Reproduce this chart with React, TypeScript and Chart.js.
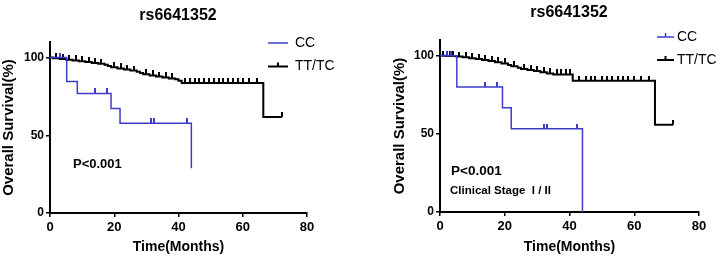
import React, { useEffect, useRef } from 'react';
import { Chart, registerables } from 'chart.js';
Chart.register(...registerables);

// ---------- data ----------
const TITLE = 'rs6641352';
const LEGEND_LABELS = ['CC', 'TT/TC'];
const Y_TICKS = [0, 50, 100];
const X_TITLE = 'Time(Months)';
const Y_TITLE = 'Overall Survival(%)';

// Left panel (all stages)
const L_CC_TIMES = [5.2, 8.5, 19, 21.8, 44];
const L_CC_SURV = [84.6, 76.9, 67.3, 57.7, 28.8];
const L_CC_CENSOR = [3, 14, 17.6, 31.3, 32.4, 42.6];

const L_TT_TIMES = [1, 3, 5, 7, 9, 11, 13, 15, 17, 18, 19, 21, 23, 25, 27, 28, 29, 31, 33, 35, 37, 39, 40, 41, 66.4];
const L_TT_SURV = [99.5, 99, 98.6, 98.1, 97.6, 97.1, 96.5, 96, 95.3, 94.5, 93.7, 93, 92.3, 91.6, 90.8, 90, 89.2, 88.5, 87.8, 87.2, 86.6, 86, 85, 83.7, 61.8];
const L_TT_END = 72.2;
const L_TT_CENSOR = [2, 4, 6, 8, 10, 12, 14, 16, 20, 22, 24, 26, 30, 32, 34, 36, 38, 42, 43.5, 45, 46.5, 48, 49.5, 51, 52.5, 54, 55.5, 57, 58.5, 60, 62, 64.5, 72.2];

// Right panel (clinical stage I/II)
const R_CC_TIMES = [5.2, 19.3, 22, 44];
const R_CC_SURV = [80, 66.7, 53.3, 0];
const R_CC_CENSOR = [2.2, 3.4, 14, 17.7, 32, 33, 42.4];

const R_TT_TIMES = [2, 5, 7, 9, 11, 13, 15, 17, 19, 21, 22, 24, 25, 27, 29, 31, 33, 35, 41, 66.4];
const R_TT_SURV = [99.7, 99.4, 98.9, 98.4, 97.8, 97.2, 96.5, 95.8, 95, 94, 93.2, 92.3, 91.5, 90.8, 90.1, 89.3, 88.6, 88, 84, 55.8];
const R_TT_END = 72;
const R_TT_CENSOR = [1, 3, 4, 6, 8, 10, 12, 14, 16, 18, 20, 23, 26, 28, 30, 32, 34, 36, 37.5, 39, 40, 43, 45, 46.5, 48, 50, 51.5, 53, 55, 56.5, 58, 60, 62, 64.5, 72];

// ---------- helpers ----------
const BLUE = '#3d3dcc';
const BLACK = '#000000';
const SANS = '"Liberation Sans", Arial, sans-serif';

function stepPoints(times: number[], surv: number[], end?: number) {
  const pts = [{ x: 0, y: 100 }];
  times.forEach((t, i) => pts.push({ x: t, y: surv[i] }));
  if (end !== undefined) pts.push({ x: end, y: surv[surv.length - 1] });
  return pts;
}
function levelAt(times: number[], surv: number[], t: number) {
  let s = 100;
  times.forEach((tt, i) => {
    if (tt <= t) s = surv[i];
  });
  return s;
}
function censorPoints(times: number[], surv: number[], cens: number[]) {
  return cens.map((t) => ({ x: t, y: levelAt(times, surv, t) }));
}
function makeTick(color: string, w: number) {
  const c = document.createElement('canvas');
  c.width = w;
  c.height = 10;
  const g = c.getContext('2d')!;
  g.fillStyle = color;
  g.fillRect(0, 0, w, 5);
  return c;
}

type PanelCfg = {
  left: number;
  padLeft: number;
  padRight: number;
  padTop: number;
  yWidth: number;
  xHeight: number;
  titleX: number;
  titleY: number;
  legend: { x0: number; x1: number; textX: number; ys: number[]; ticks: boolean[] };
  notes: { text: string; x: number; y: number; font: string }[];
  cc: { times: number[]; surv: number[]; cens: number[]; end?: number };
  tt: { times: number[]; surv: number[]; cens: number[]; end?: number };
};

const LEFT_PANEL: PanelCfg = {
  left: 0,
  padLeft: 0,
  padRight: 57,
  padTop: 42,
  yWidth: 50,
  xHeight: 47,
  titleX: 178,
  titleY: 16,
  legend: { x0: 268, x1: 288, textX: 295, ys: [43, 66.5], ticks: [false, true] },
  notes: [{ text: 'P<0.001', x: 73, y: 164.5, font: `bold 13px ${SANS}` }],
  cc: { times: L_CC_TIMES, surv: L_CC_SURV, cens: L_CC_CENSOR },
  tt: { times: L_TT_TIMES, surv: L_TT_SURV, cens: L_TT_CENSOR, end: L_TT_END },
};

const RIGHT_PANEL: PanelCfg = {
  left: 364,
  padLeft: 27,
  padRight: 29,
  padTop: 40,
  yWidth: 49,
  xHeight: 48,
  titleX: 205,
  titleY: 13,
  legend: { x0: 293, x1: 310, textX: 313, ys: [37, 60], ticks: [true, true] },
  notes: [
    { text: 'P<0.001', x: 87, y: 171.5, font: `bold 13.5px ${SANS}` },
    { text: 'Clinical Stage  I / II', x: 86, y: 191, font: `bold 11.5px ${SANS}` },
  ],
  cc: { times: R_CC_TIMES, surv: R_CC_SURV, cens: R_CC_CENSOR },
  tt: { times: R_TT_TIMES, surv: R_TT_SURV, cens: R_TT_CENSOR, end: R_TT_END },
};

function Panel({ cfg }: { cfg: PanelCfg }) {
  const ref = useRef<HTMLCanvasElement | null>(null);
  useEffect(() => {
    if (!ref.current) return;
    const blueTick = makeTick(BLUE, 2);
    const blackTick = makeTick(BLACK, 2);
    const colors = [BLUE, BLACK];
    const widths = [1.5, 2];

    const extras = {
      id: 'extras',
      afterDraw(chart: any) {
        const ctx = chart.ctx as CanvasRenderingContext2D;
        ctx.save();
        ctx.fillStyle = BLACK;
        ctx.textBaseline = 'middle';
        ctx.textAlign = 'center';
        ctx.font = `bold 16px ${SANS}`;
        ctx.fillText(TITLE, cfg.titleX, cfg.titleY);
        const L = cfg.legend;
        LEGEND_LABELS.forEach((lab, i) => {
          const y = L.ys[i];
          ctx.strokeStyle = colors[i];
          ctx.lineWidth = widths[i];
          ctx.beginPath();
          ctx.moveTo(L.x0, y);
          ctx.lineTo(L.x1, y);
          if (L.ticks[i]) {
            const m = (L.x0 + L.x1) / 2;
            ctx.moveTo(m, y);
            ctx.lineTo(m, y - 4);
          }
          ctx.stroke();
          ctx.fillStyle = BLACK;
          ctx.textAlign = 'left';
          ctx.font = `14px ${SANS}`;
          ctx.fillText(lab, L.textX, y);
        });
        cfg.notes.forEach((n) => {
          ctx.font = n.font;
          ctx.textAlign = 'left';
          ctx.fillText(n.text, n.x, n.y);
        });
        ctx.restore();
      },
    };

    const chart = new Chart(ref.current, {
      type: 'line',
      data: {
        datasets: [
          {
            label: 'CC',
            data: stepPoints(cfg.cc.times, cfg.cc.surv, cfg.cc.end),
            borderColor: BLUE,
            borderWidth: 1.5,
            stepped: 'before',
            pointRadius: 0,
            fill: false,
          },
          {
            label: 'CC censored',
            type: 'scatter',
            data: censorPoints(cfg.cc.times, cfg.cc.surv, cfg.cc.cens),
            pointStyle: blueTick as any,
            pointRadius: 3,
            showLine: false,
          },
          {
            label: 'TT/TC',
            data: stepPoints(cfg.tt.times, cfg.tt.surv, cfg.tt.end),
            borderColor: BLACK,
            borderWidth: 2,
            stepped: 'before',
            pointRadius: 0,
            fill: false,
          },
          {
            label: 'TT/TC censored',
            type: 'scatter',
            data: censorPoints(cfg.tt.times, cfg.tt.surv, cfg.tt.cens),
            pointStyle: blackTick as any,
            pointRadius: 3,
            showLine: false,
          },
        ] as any,
      },
      options: {
        animation: false,
        responsive: false,
        events: [],
        layout: { padding: { left: cfg.padLeft, right: cfg.padRight, top: cfg.padTop, bottom: 0 } },
        plugins: { legend: { display: false }, tooltip: { enabled: false }, title: { display: false } },
        scales: {
          x: {
            type: 'linear',
            min: 0,
            max: 80,
            ticks: { stepSize: 20, color: BLACK, font: { family: SANS, size: 13, weight: 'bold' }, padding: 3 },
            grid: { drawOnChartArea: false, drawTicks: true, tickLength: 4, color: BLACK, lineWidth: 1.5 },
            border: { display: true, color: BLACK, width: 2 },
            title: {
              display: true,
              text: X_TITLE,
              color: BLACK,
              font: { family: SANS, size: 14, weight: 'bold' },
              padding: { top: 0, bottom: 4 },
            },
            afterFit: (s: any) => {
              s.height = cfg.xHeight;
            },
          },
          y: {
            type: 'linear',
            min: 0,
            max: 110,
            afterBuildTicks: (s: any) => {
              s.ticks = Y_TICKS.map((v) => ({ value: v }));
            },
            ticks: { color: BLACK, font: { family: SANS, size: 12, weight: 'bold' }, padding: 2 },
            grid: { drawOnChartArea: false, drawTicks: true, tickLength: 4, color: BLACK, lineWidth: 1.5 },
            border: { display: true, color: BLACK, width: 2 },
            title: {
              display: true,
              text: Y_TITLE,
              color: BLACK,
              font: { family: SANS, size: 15, weight: 'bold' },
              padding: { top: 0, bottom: 0 },
            },
            afterFit: (s: any) => {
              s.width = cfg.yWidth;
            },
          },
        },
      } as any,
      plugins: [extras],
    });
    return () => chart.destroy();
  }, [cfg]);
  return (
    <canvas
      ref={ref}
      width={364}
      height={260}
      style={{ position: 'absolute', left: cfg.left, top: 0, width: 364, height: 260 }}
    />
  );
}

export default function App() {
  return (
    <div style={{ position: 'absolute', left: 0, top: 0, width: 728, height: 260, background: '#fff' }}>
      <Panel cfg={LEFT_PANEL} />
      <Panel cfg={RIGHT_PANEL} />
    </div>
  );
}
